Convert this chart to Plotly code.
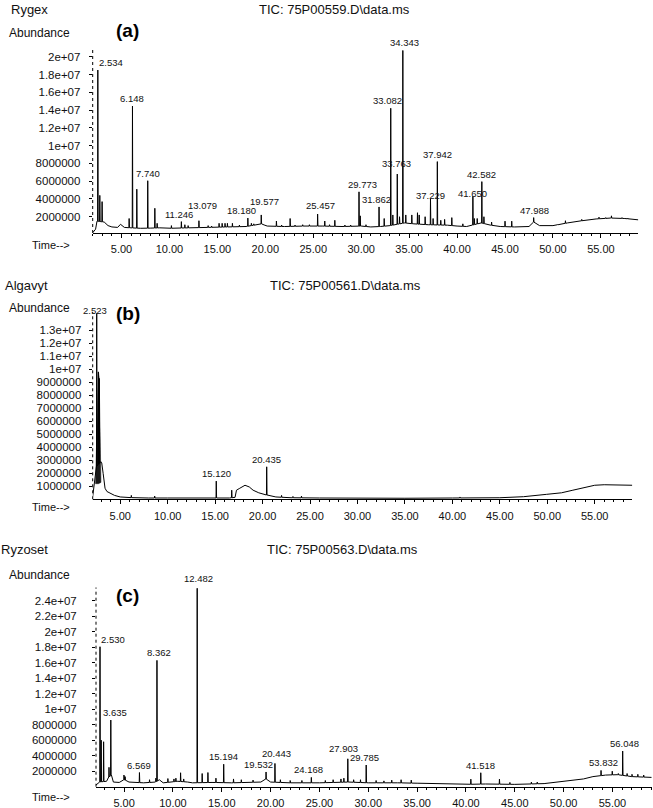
import numpy as np
import plotly.graph_objects as go

W, H = 653, 808
M = 1e6  # abundance values below are in millions

# ---------------- Panel (a) Rygex ----------------
a_base_t = [2.0, 2.3, 2.45, 3.2, 3.6, 4.0, 4.6, 4.9, 5.3, 6.0, 7.0, 8.0, 9.0, 10.0, 12.0, 14.0,
            16.0, 18.0, 19.6, 20.2, 22.0, 24.0, 26.0, 28.0, 30.0, 31.0, 32.0, 33.0, 34.5, 35.5,
            37.0, 39.0, 40.0, 41.0, 42.5, 43.5, 44.5, 46.0, 47.5, 48.0, 48.6, 50.0, 51.5, 53.0,
            54.5, 56.0, 57.5, 58.9]
a_base_v = [0.2, 0.6, 1.5, 1.4, 1.0, 0.85, 0.8, 1.15, 0.8, 0.75, 0.7, 0.72, 0.75, 0.7, 0.75, 0.8,
            0.85, 0.9, 1.2, 0.95, 0.9, 0.95, 0.95, 0.9, 0.95, 0.85, 0.9, 1.0, 1.3, 1.2,
            1.1, 1.05, 0.95, 0.9, 1.3, 1.05, 0.9, 0.85, 0.9, 1.4, 1.0, 1.0, 1.3, 1.55,
            1.75, 1.85, 1.8, 1.65]
a_lab_t = [2.534, 6.148, 7.740, 11.246, 13.079, 18.180, 19.577, 25.457, 29.773, 31.862,
           33.082, 33.763, 34.343, 37.229, 37.942, 41.650, 42.582, 47.988]
a_lab_v = [18.5, 14.45, 6.05, 1.45, 1.55, 1.85, 2.2, 2.3, 4.8, 3.1,
           14.2, 6.8, 20.7, 4.0, 8.2, 4.3, 5.95, 1.9]
a_pk_t = [2.74, 2.98, 5.80, 6.60, 8.48, 8.72, 10.21, 11.61, 11.95, 14.04, 14.4, 15.18, 15.5,
          15.8, 16.05, 16.57, 17.3, 18.55, 18.8, 19.9, 21.16, 21.7, 22.59, 23.1, 23.9, 24.6,
          26.2, 26.7, 27.25, 28.3, 28.9, 29.9, 30.5, 32.4, 33.12, 33.3, 34.0, 34.65, 35.28,
          35.87, 36.05, 36.67, 37.5, 38.3, 38.7, 39.45, 40.6, 41.8, 42.1, 42.8, 43.6, 45.0,
          45.7, 50.5, 51.3, 52.3, 53.0, 54.8, 55.5, 56.1, 57.2, 57.8]
a_pk_v = [4.4, 3.7, 1.8, 5.1, 2.95, 1.26, 1.0, 1.1, 1.0, 1.0, 0.95, 1.26, 1.26,
          1.26, 1.26, 1.26, 1.07, 1.26, 1.2, 1.07, 1.52, 1.07, 1.8, 1.07, 1.1, 1.1,
          1.52, 1.1, 1.6, 1.07, 1.07, 2.1, 1.1, 1.8, 9.1, 2.2, 2.0, 2.2, 2.2,
          2.45, 2.2, 2.0, 1.8, 1.6, 1.7, 1.9, 1.2, 1.8, 1.8, 2.0, 1.4, 1.5,
          1.5, 1.15, 1.55, 1.45, 1.7, 1.95, 1.9, 2.1, 1.9, 1.85]

# ---------------- Panel (b) Algavyt ----------------
b_base_t = [2.1, 2.3, 2.45, 2.95, 3.05, 3.2, 3.4, 3.6, 3.93, 4.4, 5.0, 6.0, 8.0, 10.0, 14.0,
            16.5, 17.1, 17.25, 17.6, 18.15, 18.6, 19.0, 19.6, 20.0, 21.4, 23.0, 26.0, 30.0,
            35.0, 40.0, 45.0, 47.5, 49.9, 51.5, 52.7, 54.0, 55.0, 56.0, 58.96]
b_base_v = [0.2, 1.3, 2.5, 2.9, 2.8, 2.0, 0.85, 0.6, 0.46, 0.3, 0.18, 0.13, 0.1, 0.1, 0.1,
            0.1, 0.15, 0.7, 0.85, 1.08, 0.95, 0.7, 0.5, 0.4, 0.18, 0.12, 0.1, 0.08,
            0.08, 0.1, 0.12, 0.2, 0.38, 0.5, 0.7, 0.9, 1.08, 1.12, 1.08]
b_lab_t = [2.523, 15.120, 20.435]
b_lab_v = [14.3, 1.4, 2.5]
b_pk_t = [2.70, 2.80, 6.17, 8.63, 16.75, 22.0, 23.2, 24.1, 40.8]
b_pk_v = [9.8, 9.3, 0.3, 0.25, 0.7, 0.3, 0.22, 0.25, 0.18]
# dark, densely overdrawn envelope of the solvent peak
b_env_t = [2.40, 2.55, 2.62, 2.70, 2.78, 2.84, 2.90, 2.97, 2.97, 2.70, 2.40]
b_env_v = [1.2, 6.5, 9.6, 9.8, 9.4, 6.0, 3.2, 2.8, 1.3, 1.2, 1.2]

# ---------------- Panel (c) Ryzoset ----------------
c_base_t = [2.1, 2.4, 3.2, 3.4, 3.7, 3.9, 4.5, 5.0, 5.5, 7.0, 8.2, 8.6, 9.0, 10.5, 11.5, 12.0,
            14.0, 16.0, 19.0, 19.5, 20.0, 22.0, 25.0, 28.0, 30.0, 33.0, 35.0, 38.0, 40.0,
            42.0, 45.0, 48.0, 50.0, 52.0, 53.0, 54.3, 55.5, 57.0, 59.0]
c_base_v = [0.2, 0.6, 0.7, 1.2, 1.5, 0.6, 0.55, 0.9, 0.6, 0.5, 0.6, 0.9, 0.5, 0.7, 0.6, 0.5,
            0.55, 0.5, 0.6, 1.0, 0.6, 0.5, 0.5, 0.6, 0.5, 0.5, 0.45, 0.35, 0.3,
            0.35, 0.3, 0.4, 0.7, 1.0, 1.3, 1.5, 1.55, 1.3, 1.2]
c_lab_t = [2.530, 3.635, 6.569, 8.362, 12.482, 15.194, 19.532, 20.443, 24.168, 27.903,
           29.785, 41.518, 53.832, 56.048]
c_lab_v = [18.06, 8.6, 1.83, 16.3, 25.6, 2.9, 1.9, 3.0, 1.2, 3.6, 2.8, 1.8, 2.1, 4.6]
c_pk_t = [2.65, 2.90, 3.45, 4.98, 5.1, 7.6, 8.25, 9.48, 10.1, 10.3, 10.78, 11.1, 12.99,
          13.58, 14.4, 16.2, 17.0, 18.2, 21.0, 22.0, 23.2, 25.6, 26.4, 27.2, 27.5, 28.5,
          29.2, 30.8, 31.6, 32.4, 33.36, 34.4, 40.5, 43.43, 44.5, 46.7, 47.3, 52.0, 54.98,
          55.6, 56.5, 57.0, 57.6, 58.2]
c_pk_v = [6.0, 5.8, 2.5, 1.5, 1.3, 0.9, 1.1, 1.05, 1.0, 1.1, 1.8, 1.0, 1.7,
          1.83, 1.1, 1.0, 0.9, 0.85, 0.9, 0.8, 0.8, 0.8, 0.9, 1.0, 1.1, 0.9,
          0.9, 0.8, 0.75, 0.85, 0.9, 0.85, 0.97, 0.97, 0.55, 0.6, 0.6, 1.0, 2.0,
          1.7, 1.7, 1.6, 1.6, 1.5]

# ---------------- text ----------------
sample_names = ["Rygex", "Algavyt", "Ryzoset"]
tic_titles = ["TIC: 75P00559.D\\data.ms", "TIC: 75P00561.D\\data.ms", "TIC: 75P00563.D\\data.ms"]
panel_tags = ["(a)", "(b)", "(c)"]
a_ytick_v = [2, 4, 6, 8, 10, 12, 14, 16, 18, 20]
a_ytick_s = ["2000000", "4000000", "6000000", "8000000", "1e+07", "1.2e+07", "1.4e+07",
             "1.6e+07", "1.8e+07", "2e+07"]
b_ytick_v = [1, 2, 3, 4, 5, 6, 7, 8, 9, 10, 11, 12, 13]
b_ytick_s = ["1000000", "2000000", "3000000", "4000000", "5000000", "6000000", "7000000",
             "8000000", "9000000", "1e+07", "1.1e+07", "1.2e+07", "1.3e+07"]
c_ytick_v = [2, 4, 6, 8, 10, 12, 14, 16, 18, 20, 22, 24]
c_ytick_s = ["2000000", "4000000", "6000000", "8000000", "1e+07", "1.2e+07", "1.4e+07",
             "1.6e+07", "1.8e+07", "2e+07", "2.2e+07", "2.4e+07"]


def trace_xy(base_t, base_v, pk_t, pk_v):
    """Baseline polyline with each peak drawn as a narrow spike rising from it."""
    pts = list(zip(base_t, base_v))
    feet = np.interp(pk_t, base_t, base_v)
    for t, v, f in zip(pk_t, pk_v, feet):
        pts += [(t - 0.025, f), (t, v), (t + 0.035, f)]
    pts.sort(key=lambda p: p[0])
    xs = [p[0] for p in pts]
    ys = [p[1] * M for p in pts]
    return xs, ys


FONT = "Liberation Sans, Arial, sans-serif"
INK = "#111111"


def px(x):
    return x / W


def py(y):
    return 1 - y / H


panels = [
    dict(base=(a_base_t, a_base_v), lab=(a_lab_t, a_lab_v), pk=(a_pk_t, a_pk_v),
         xdom=[92.7, 638.3], ydom=[233.0, 49.4], xr=[2.0, 58.9], yr=[0.17, 20.82],
         yt=(a_ytick_v, a_ytick_s), ystand=6,
         name_y=9.5, tic_x=257, abund_y=33, tag_y=30, time_y=245,
         shifts=[(None, -1, 0), (0, 0, 0), (0, 0, 0), (0, -2, 0), (0, 4, 8), (0, -6, 0),
                 (0, 3, 6), (0, 3, 1), (0, 3, 0), (0, -3, 0), (0, -3, 0), (0, -1, 3),
                 (0, 2, 0), (0, 0, -4), (0, 0, 0), (0, 0, -5), (0, 0, 0), (0, 1, 0)]),
    dict(base=(b_base_t, b_base_v), lab=(b_lab_t, b_lab_v), pk=(b_pk_t, b_pk_v),
         xdom=[92.7, 632.3], ydom=[499.3, 312.0], xr=[2.1, 58.96], yr=[0.0, 14.41],
         yt=(b_ytick_v, b_ytick_s), ystand=5,
         name_y=285, tic_x=268, abund_y=308, tag_y=313, time_y=507,
         shifts=[(0, -2, -5), (0, 0, 0), (0, 0, 0)]),
    dict(base=(c_base_t, c_base_v), lab=(c_lab_t, c_lab_v), pk=(c_pk_t, c_pk_v),
         xdom=[96.0, 652.0], ydom=[786.7, 587.5], xr=[2.12, 59.05], yr=[0.0, 25.7],
         yt=(c_ytick_v, c_ytick_s), ystand=13,
         name_y=549, tic_x=265, abund_y=575, tag_y=595, time_y=797,
         shifts=[(None, -1, 0), (0, 4, 0), (0, 0, 0), (0, 2, 0), (0, 1, 2), (0, 0, 0),
                 (0, -8, 0), (0, 2, 2), (0, -3, 0), (0, -4, 3), (0, -2, 0), (0, 0, 0),
                 (0, 2, 0), (0, 2, 0)]),
]

fig = go.Figure()
annotations = []
shapes = []
layout_axes = {}

for i, p in enumerate(panels):
    k = "" if i == 0 else str(i + 1)
    xref, yref = "x" + k, "y" + k

    if i == 1:
        # dark overdrawn envelope of the solvent peak
        fig.add_trace(go.Scatter(x=b_env_t, y=[v * M for v in b_env_v], xaxis=xref, yaxis=yref,
                                 mode="lines", fill="toself", fillcolor="#1a1a1a",
                                 line=dict(color="#1a1a1a", width=0.5), hoverinfo="skip",
                                 showlegend=False))

    all_pk_t = list(p["lab"][0]) + list(p["pk"][0])
    all_pk_v = list(p["lab"][1]) + list(p["pk"][1])
    xs, ys = trace_xy(p["base"][0], p["base"][1], all_pk_t, all_pk_v)
    fig.add_trace(go.Scatter(x=xs, y=ys, xaxis=xref, yaxis=yref, mode="lines",
                             line=dict(color="#000000", width=1), hoverinfo="skip",
                             showlegend=False))

    layout_axes["xaxis" + k] = dict(
        domain=[px(p["xdom"][0]), px(p["xdom"][1])], range=p["xr"], anchor=yref,
        showline=True, linecolor="#000", linewidth=1, ticks="outside", ticklen=4,
        tickcolor="#000", tickmode="linear", tick0=0, dtick=5, tickformat=".2f",
        tickfont=dict(family=FONT, size=11, color=INK), showgrid=False, zeroline=False,
        minor=dict(tickmode="linear", tick0=0, dtick=1, ticks="outside", ticklen=2,
                   tickcolor="#000", showgrid=False),
        ticklabelstandoff=2, fixedrange=True)
    layout_axes["yaxis" + k] = dict(
        domain=[py(p["ydom"][0]), py(p["ydom"][1])], range=[p["yr"][0] * M, p["yr"][1] * M],
        anchor=xref, showline=False, ticks="outside", ticklen=3, tickcolor="#000",
        tickmode="array", tickvals=[v * M for v in p["yt"][0]], ticktext=p["yt"][1],
        tickfont=dict(family=FONT, size=11.5, color=INK), showgrid=False, zeroline=False,
        ticklabelstandoff=p["ystand"], fixedrange=True)

    # dotted vertical axis line
    shapes.append(dict(type="line", xref=xref + " domain", yref=yref + " domain",
                       x0=0, x1=0, y0=0, y1=1, line=dict(color="#000", width=1, dash="dot")))

    # peak labels
    for (t, v), (anc, dx, dy) in zip(zip(*p["lab"]), p["shifts"]):
        annotations.append(dict(x=t, y=v * M, xref=xref, yref=yref, text=f"{t:.3f}",
                                showarrow=False, xanchor="left" if anc is None else "center",
                                yanchor="bottom", xshift=dx, yshift=dy,
                                font=dict(family=FONT, size=9.5, color=INK)))

    # headers
    annotations += [
        dict(x=px(50), y=py(p["name_y"]), xref="paper", yref="paper", text=sample_names[i],
             showarrow=False, xanchor="right", yanchor="middle",
             font=dict(family=FONT, size=13, color=INK)),
        dict(x=px(p["tic_x"]), y=py(p["name_y"]), xref="paper", yref="paper",
             text=tic_titles[i], showarrow=False, xanchor="left", yanchor="middle",
             font=dict(family=FONT, size=13, color=INK)),
        dict(x=px(7), y=py(p["abund_y"]), xref="paper", yref="paper", text="Abundance",
             showarrow=False, xanchor="left", yanchor="middle",
             font=dict(family=FONT, size=12, color=INK)),
        dict(x=px(127.5), y=py(p["tag_y"]), xref="paper", yref="paper",
             text="<b>" + panel_tags[i] + "</b>", showarrow=False, xanchor="center",
             yanchor="middle", font=dict(family=FONT, size=19, color="#000")),
        dict(x=px(30), y=py(p["time_y"]), xref="paper", yref="paper", text="Time-->",
             showarrow=False, xanchor="left", yanchor="middle",
             font=dict(family=FONT, size=11, color=INK)),
    ]

fig.update_layout(
    width=W, height=H, margin=dict(l=0, r=0, t=0, b=0),
    paper_bgcolor="white", plot_bgcolor="white",
    annotations=annotations, shapes=shapes, showlegend=False,
    font=dict(family=FONT, color=INK),
    **layout_axes,
)

fig.write_html("out.html", config={"displayModeBar": False},
               post_script="document.body.style.margin='0';"
                           "document.body.style.overflow='hidden';")
